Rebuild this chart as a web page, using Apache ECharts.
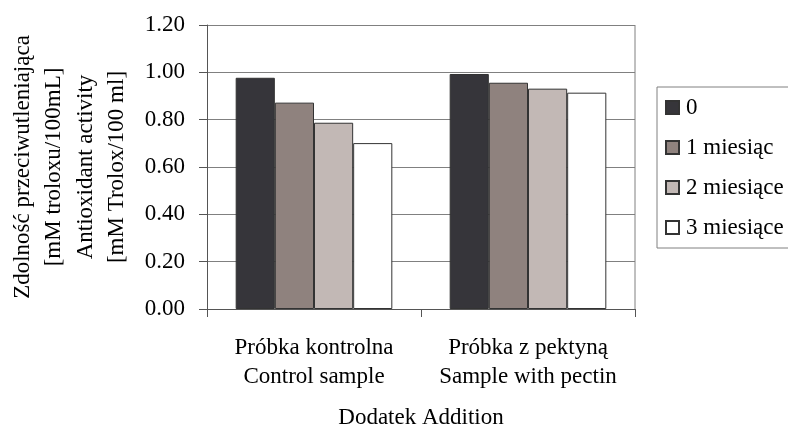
<!DOCTYPE html>
<html><head><meta charset="utf-8">
<script src="https://cdn.jsdelivr.net/npm/echarts@6/dist/echarts.min.js"></script>
<style>html,body{margin:0;padding:0;background:#fff}#c{width:788px;height:430px}</style>
</head><body><div id="c"></div>
<script>
const categories = ['Próbka kontrolna\nControl sample', 'Próbka z pektyną\nSample with pectin'];
const seriesNames = ['0', '1 miesiąc', '2 miesiące', '3 miesiące'];
const values0 = [0.977, 0.993];
const values1 = [0.872, 0.956];
const values2 = [0.787, 0.931];
const values3 = [0.701, 0.914];
const colors = ['#36353a', '#8f827e', '#c2b8b5', '#ffffff'];
const allValues = [values0, values1, values2, values3];
const font = '"Liberation Serif", "DejaVu Serif", serif';
const fs = 23;

const chart = echarts.init(document.getElementById('c'));
chart.setOption({
  animation: false,
  textStyle: { fontFamily: font },
  grid: { left: 207, top: 25, width: 428, height: 284, containLabel: false, outerBoundsMode: 'none' },
  legend: {
    orient: 'vertical', left: 657, top: 87,
    icon: 'rect',
    itemWidth: 13, itemHeight: 13, itemGap: 17,
    padding: [9, 40, 9, 8],
    borderColor: '#808080', borderWidth: 1,
    textStyle: { fontFamily: font, fontSize: fs, color: '#000', padding: [0, 0, 0, 2] },
    data: seriesNames
  },
  xAxis: {
    type: 'category', data: categories,
    name: 'Dodatek Addition', nameLocation: 'middle', nameGap: 97,
    nameTextStyle: { fontFamily: font, fontSize: fs, color: '#000' },
    axisLine: { lineStyle: { color: '#555', width: 1 } },
    axisTick: { show: true, inside: false, length: 8, lineStyle: { color: '#555' } },
    axisLabel: { interval: 0, hideOverlap: false, fontFamily: font, fontSize: fs, color: '#000', lineHeight: 29, margin: 24 }
  },
  yAxis: {
    type: 'value', min: 0, max: 1.2, interval: 0.2,
    name: 'Zdolność przeciwutleniająca\n[mM troloxu/100mL]\nAntioxidant activity\n[mM Trolox/100 ml]',
    nameLocation: 'middle', nameGap: 74, nameRotate: 90,
    nameTextStyle: { fontFamily: font, fontSize: fs, color: '#000', lineHeight: 31.5 },
    axisLine: { show: true, lineStyle: { color: '#555' } },
    axisTick: { show: true, length: 8, lineStyle: { color: '#555' } },
    splitLine: { lineStyle: { color: '#808080', width: 1 } },
    axisLabel: { fontFamily: font, fontSize: fs, color: '#000', margin: 22, formatter: v => v.toFixed(2) }
  },
  graphic: [{
    type: 'line', shape: { x1: 635, y1: 25, x2: 635, y2: 309 },
    style: { stroke: '#808080', lineWidth: 1 }, silent: true
  }],
  series: seriesNames.map((n, i) => ({
    name: n, type: 'bar', data: allValues[i],
    barWidth: '18.3%', barGap: '0%',
    itemStyle: { color: colors[i], borderColor: '#333', borderWidth: 1 }
  }))
});
</script></body></html>
